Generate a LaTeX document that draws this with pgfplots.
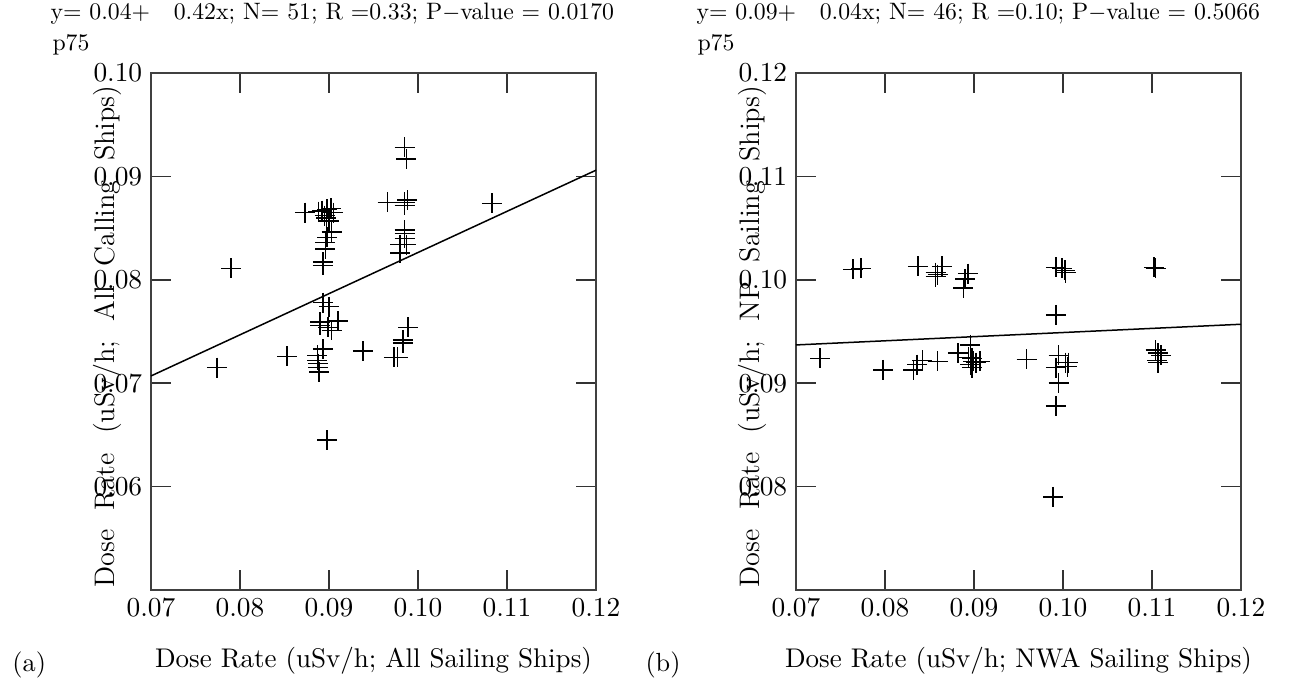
\documentclass[border=0pt]{standalone}
\usepackage{pgfplots}
\pgfplotsset{compat=1.18}
\protected\def\wide{\spaceskip=7.7pt\relax}
\pgfplotsset{dose/.style={
  scale only axis,width=178pt,height=206.8pt,anchor=south west,
  axis line style={black!75,line width=0.6pt},
  tick style={black!80,line width=0.6pt},
  major tick length=8pt,tick align=inside,
  xmin=0.07,xmax=0.12,xtick={0.07,0.08,0.09,0.10,0.11,0.12},
  scaled ticks=false,
  tick label style={font=\fontsize{11}{13}\selectfont},
  xticklabel style={/pgf/number format/.cd,fixed,fixed zerofill,precision=2},
  yticklabel style={/pgf/number format/.cd,fixed,fixed zerofill,precision=2},
  xlabel style={font=\fontsize{10.8}{12}\selectfont,
    at={(axis description cs:0.5,0)},yshift=-28.4pt,anchor=center},
  ylabel style={font=\fontsize{11.3}{13}\selectfont,
    at={(axis description cs:-0.098,0.49)},anchor=center},
  clip=false}}
\begin{document}
\begin{tikzpicture}
\path[use as bounding box] (0,0) rectangle (517.6pt,275.2pt);

% (a) all sailing vs all calling
\begin{axis}[dose,at={(60.4pt,39.2pt)},
  ymin=0.05,ymax=0.10,ytick={0.06,0.07,0.08,0.09,0.10},
  xlabel={Dose Rate (uSv/h; All Sailing Ships)},
  ylabel={\wide Dose Rate (uSv/h; All Calling Ships)}]
\addplot[only marks,mark=+,mark size=4pt,mark options={line width=0.6pt}] coordinates {
(0.0774,0.0715) (0.0790,0.0811) (0.0853,0.0726) (0.0873,0.0865)
(0.0888,0.0866) (0.0892,0.0867) (0.0895,0.0862) (0.0898,0.0868)
(0.0902,0.0869) (0.0897,0.0860) (0.0900,0.0857) (0.0905,0.0865)
(0.0903,0.0846) (0.0898,0.0841) (0.0896,0.0836) (0.0896,0.0830)
(0.0893,0.0817) (0.0893,0.0814) (0.0893,0.0778) (0.0900,0.0774)
(0.0890,0.0759) (0.0890,0.0756) (0.0910,0.0760) (0.0903,0.0751)
(0.0899,0.0754) (0.0893,0.0733) (0.0887,0.0727) (0.0887,0.0722)
(0.0888,0.0719) (0.0888,0.0715) (0.0889,0.0711) (0.0898,0.0645)
(0.0938,0.0731) (0.0966,0.0875) (0.0985,0.0928) (0.0987,0.0917)
(0.0985,0.0875) (0.0988,0.0877) (0.0985,0.0872) (0.0985,0.0848)
(0.0985,0.0845) (0.0985,0.0840) (0.0987,0.0834) (0.0980,0.0834)
(0.0980,0.0826) (0.0977,0.0725) (0.0973,0.0725) (0.0983,0.0742)
(0.0983,0.0739) (0.0989,0.0754) (0.1083,0.0874)};
\addplot[black,line width=0.6pt] coordinates {(0.07,0.0707) (0.12,0.0906)};
\end{axis}

% (b) NWA sailing vs NP sailing
\begin{axis}[dose,at={(318.4pt,39.2pt)},
  ymin=0.07,ymax=0.12,ytick={0.08,0.09,0.10,0.11,0.12},
  xlabel={Dose Rate (uSv/h; NWA Sailing Ships)},
  ylabel={\wide Dose Rate (uSv/h; NP Sailing Ships)}]
\addplot[only marks,mark=+,mark size=4pt,mark options={line width=0.6pt}] coordinates {
(0.0727,0.0924) (0.0764,0.1010) (0.0773,0.1011) (0.0798,0.0913)
(0.0832,0.0913) (0.0836,0.0918) (0.0842,0.0922) (0.0837,0.1013)
(0.0857,0.1007) (0.0859,0.1005) (0.0864,0.1013) (0.0857,0.1003)
(0.0859,0.0921) (0.0882,0.0929) (0.0893,0.1006) (0.0888,0.0992)
(0.0896,0.0937) (0.0894,0.0925) (0.0898,0.0924) (0.0899,0.0921)
(0.0896,0.0918) (0.0902,0.0920) (0.0907,0.0921) (0.0898,0.0915)
(0.0959,0.0923) (0.0992,0.1012) (0.0999,0.1011) (0.1002,0.1009)
(0.1003,0.1007) (0.0992,0.0966) (0.0995,0.0927) (0.0992,0.0915)
(0.1003,0.0920) (0.1006,0.0920) (0.1005,0.0916) (0.0995,0.0900)
(0.0992,0.0878) (0.0989,0.0790) (0.1102,0.1012) (0.1104,0.1011)
(0.1104,0.0932) (0.1107,0.0929) (0.1106,0.0922) (0.1110,0.0927)
(0.1107,0.0920) (0.0890,0.1001)};
\addplot[black,line width=0.6pt] coordinates {(0.07,0.0937) (0.12,0.0957)};
\end{axis}

\node[anchor=west,font=\fontsize{9.5}{11}\selectfont,inner sep=0pt] at (20pt,269.6pt)
  {y=\ 0.04+\ \ \ 0.42x; N=\ 51; R =0.33; P$-$value = 0.0170};
\node[anchor=west,font=\fontsize{9.5}{11}\selectfont,inner sep=0pt] at (20.8pt,257.2pt) {p75};
\node[anchor=west,font=\fontsize{10.5}{12}\selectfont,inner sep=0pt] at (4.8pt,9.2pt) {(a)};
\node[anchor=west,font=\fontsize{9.5}{11}\selectfont,inner sep=0pt] at (278.4pt,269.6pt)
  {y=\ 0.09+\ \ \ 0.04x; N=\ 46; R =0.10; P$-$value = 0.5066};
\node[anchor=west,font=\fontsize{9.5}{11}\selectfont,inner sep=0pt] at (278.8pt,257.2pt) {p75};
\node[anchor=west,font=\fontsize{10.5}{12}\selectfont,inner sep=0pt] at (258pt,9.2pt) {(b)};
\end{tikzpicture}
\end{document}
